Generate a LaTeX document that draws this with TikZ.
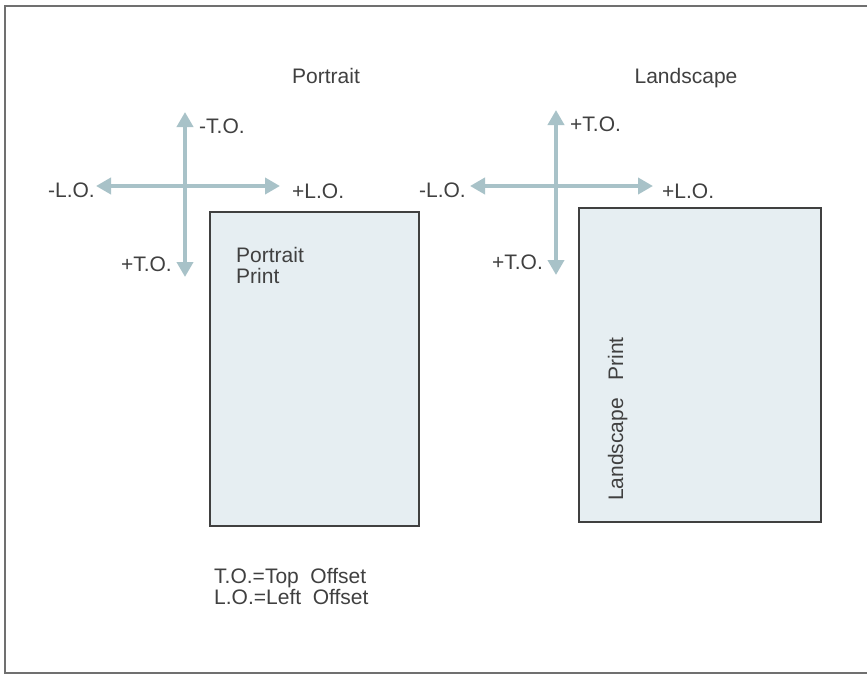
\documentclass[tikz,border=0pt]{standalone}
\usepackage{fontspec}
\setmainfont{Liberation Sans}
\usetikzlibrary{arrows.meta}
\definecolor{arrowc}{HTML}{A8C2C8}
\definecolor{txt}{HTML}{404040}
\definecolor{paper}{HTML}{E6EEF2}
\definecolor{frame}{HTML}{707070}
\tikzset{
  lbl/.style={text=txt,font=\fontsize{21}{21}\selectfont,inner sep=0pt},
  axis/.style={draw=arrowc,line width=4.3pt,{Triangle[length=15pt,width=16pt]}-{Triangle[length=15pt,width=16pt]}},
  sheet/.style={draw=txt,line width=1.3pt,fill=paper}
}
\begin{document}
\begin{tikzpicture}[x=1pt,y=-1pt]
\useasboundingbox (0,0) rectangle (867,677);
\fill[white] (0,0) rectangle (867,677);
\draw[frame,line width=2.2pt] (870,6) -- (5,6) -- (5,673) -- (870,673);

% titles
\node[lbl,anchor=base] (tp) at (326,83) {Portrait};
\node[lbl,anchor=base] (tl) at (686,83) {Landscape};

% portrait axes
\coordinate (pT) at (185,112);
\coordinate (pB) at (185,277);
\coordinate (pL) at (96,186);
\coordinate (pR) at (280,186);
\draw[axis] (pT) -- (pB);
\draw[axis] (pL) -- (pR);
\node[lbl,anchor=base west] (pmto) at (199,133) {-T.O.};
\node[lbl,anchor=base east] (pmlo) at (95,197) {-L.O.};
\node[lbl,anchor=base west] (pplo) at (292,198) {+L.O.};
\node[lbl,anchor=base east] (ppto) at (172,271) {+T.O.};

% portrait sheet
\node[sheet,minimum width=209pt,minimum height=314pt,inner sep=0pt] (ps) at (314.5,369) {};
\node[lbl,anchor=base west] (pst1) at (236,262) {Portrait};
\node[lbl,anchor=base west] (pst2) at (236,283) {Print};

% landscape axes
\coordinate (lT) at (556,110);
\coordinate (lB) at (556,275);
\coordinate (lL) at (470,186);
\coordinate (lR) at (653,186);
\draw[axis] (lT) -- (lB);
\draw[axis] (lL) -- (lR);
\node[lbl,anchor=base west] (lpto) at (570,131) {+T.O.};
\node[lbl,anchor=base east] (lmlo) at (466,197) {-L.O.};
\node[lbl,anchor=base west] (lplo) at (662,198) {+L.O.};
\node[lbl,anchor=base east] (lbto) at (543,269) {+T.O.};

% landscape sheet
\node[sheet,minimum width=242pt,minimum height=314pt,inner sep=0pt] (ls) at (700,365) {};
\node[lbl,rotate=90,anchor=base west] (lst) at (623,501) {Landscape\ \ \ Print};

% legend
\node[lbl,anchor=base west] (leg1) at (214,583) {T.O.=Top\ \ Offset};
\node[lbl,anchor=base west] (leg2) at (214,604) {L.O.=Left\ \ Offset};
\end{tikzpicture}
\end{document}
